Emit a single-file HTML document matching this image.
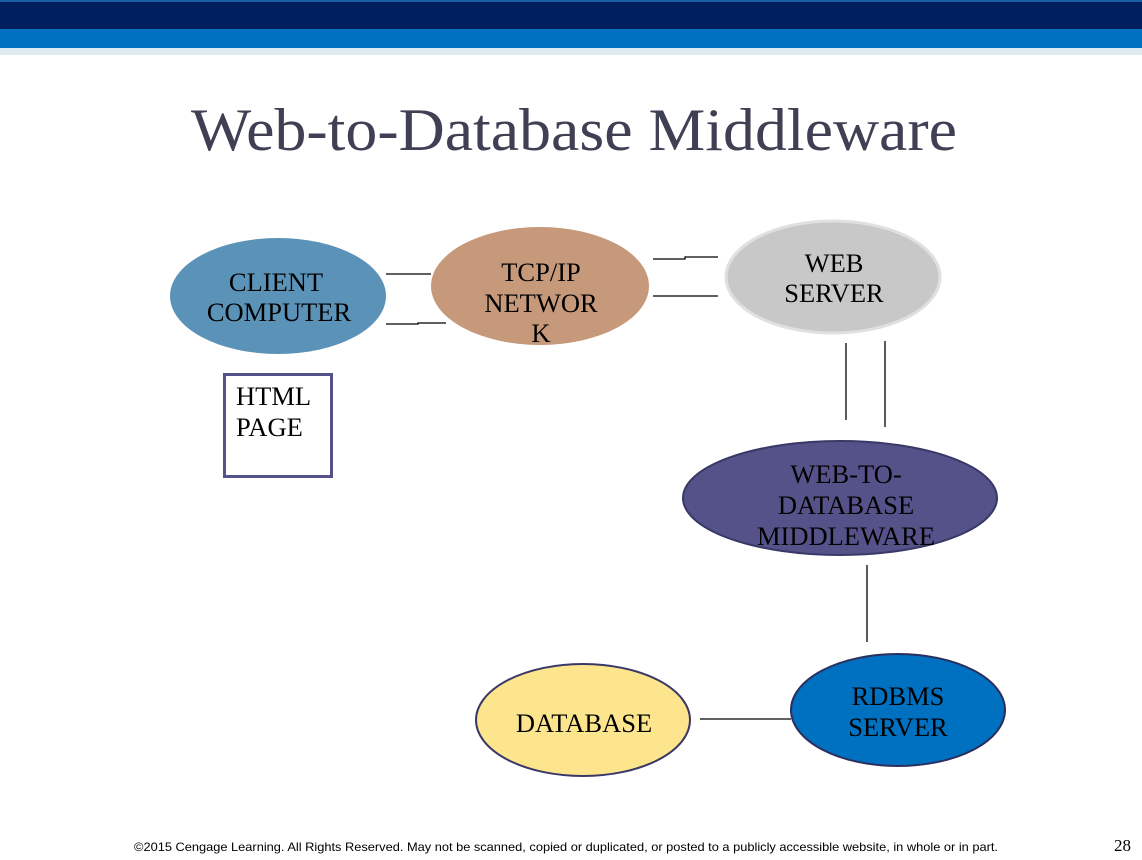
<!DOCTYPE html>
<html><head><meta charset="utf-8"><style>html,body{margin:0;padding:0;background:#fff}svg{display:block}</style></head>
<body>
<svg width="1142" height="860" viewBox="0 0 1142 860" xmlns="http://www.w3.org/2000/svg">
<rect x="0" y="0" width="1142" height="2" fill="#1a5fa8"/>
<rect x="0" y="2" width="1142" height="27" fill="#001f5e"/>
<rect x="0" y="29" width="1142" height="19" fill="#0070c0"/>
<rect x="0" y="48" width="1142" height="7" fill="#dfe9f0"/>
<text x="574" y="150" text-anchor="middle" font-family="Liberation Serif, serif" font-size="60" fill="#404055" textLength="766" lengthAdjust="spacingAndGlyphs">Web-to-Database Middleware</text>
<g stroke="#000" stroke-width="1.3" fill="none">
<line x1="386" y1="274" x2="431" y2="274"/>
<polyline points="386,324 418,324 418,323 446,323"/>
<polyline points="653,259 685,259 685,257 718,257"/>
<line x1="653" y1="296" x2="718" y2="296"/>
<line x1="846" y1="343" x2="846" y2="420"/>
<line x1="885" y1="341" x2="885" y2="427"/>
<line x1="867" y1="565" x2="867" y2="642"/>
<line x1="700" y1="719" x2="791" y2="719"/>
</g>
<ellipse cx="278" cy="296" rx="108" ry="58" fill="#5b93b8"/>
<ellipse cx="540" cy="286" rx="109" ry="59" fill="#c6997b"/>
<ellipse cx="833" cy="277" rx="107" ry="56" fill="#c8c8c8" stroke="#e0e0e0" stroke-width="3"/>
<ellipse cx="840" cy="498" rx="157" ry="57" fill="#55528a" stroke="#3a3866" stroke-width="2"/>
<ellipse cx="583" cy="720" rx="107" ry="56" fill="#fde58e" stroke="#3a3866" stroke-width="2"/>
<ellipse cx="898" cy="710" rx="107" ry="56" fill="#0070c0" stroke="#2a2f5e" stroke-width="2"/>
<rect x="224.5" y="374.5" width="107" height="102" fill="#fff" stroke="#55528a" stroke-width="3"/>
<g font-family="Liberation Serif, serif" font-size="26.5" fill="#000" text-anchor="middle">
<text x="276" y="291">CLIENT</text><text x="279" y="321">COMPUTER</text>
<text x="541" y="281">TCP/IP</text><text x="541" y="312">NETWOR</text><text x="541" y="342">K</text>
<text x="834" y="272">WEB</text><text x="834" y="302">SERVER</text>
<text x="846" y="483">WEB-TO-</text><text x="846" y="514">DATABASE</text><text x="846" y="545">MIDDLEWARE</text>
<text x="584" y="732">DATABASE</text>
<text x="898" y="705">RDBMS</text><text x="898" y="736">SERVER</text>
<text x="236" y="405" text-anchor="start">HTML</text><text x="236" y="436" text-anchor="start">PAGE</text>
</g>
<text x="134" y="851" font-family="Liberation Sans, sans-serif" font-size="12" fill="#000" textLength="864" lengthAdjust="spacingAndGlyphs">©2015 Cengage Learning. All Rights Reserved. May not be scanned, copied or duplicated, or posted to a publicly accessible website, in whole or in part.</text>
<text x="1114" y="851" font-family="Liberation Serif, serif" font-size="17" fill="#000">28</text>
</svg>
</body></html>
